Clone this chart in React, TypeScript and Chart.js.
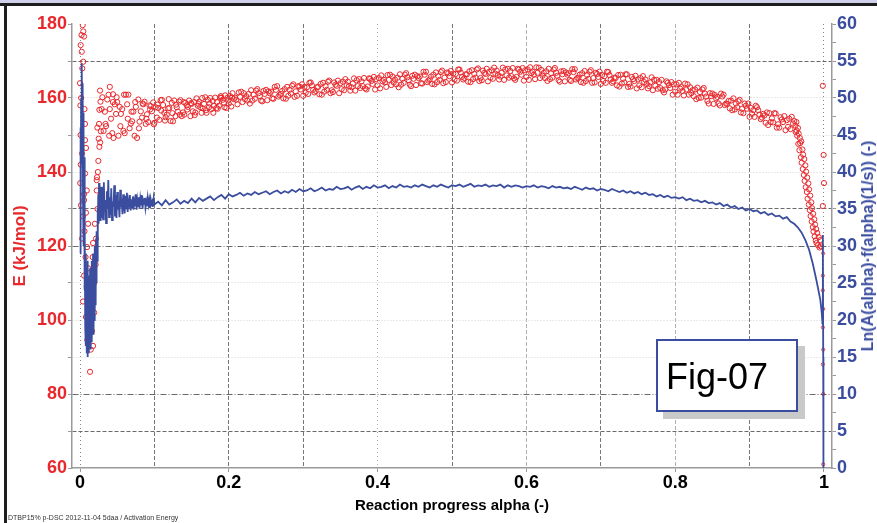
import React, { useEffect, useRef } from "react";
import { Chart, registerables } from "chart.js";

Chart.register(...registerables);

const FONT = "'Liberation Sans', Arial, Helvetica, sans-serif";
const RED = "#e8282c";
const BLUE = "#3a4d9f";

// Axis tick values
const X_TICKS = [0, 0.1, 0.2, 0.3, 0.4, 0.5, 0.6, 0.7, 0.8, 0.9, 1];
const E_TICKS = [60, 70, 80, 90, 100, 110, 120, 130, 140, 150, 160, 170, 180];
const LN_TICKS = [0, 2.5, 5, 7.5, 10, 12.5, 15, 17.5, 20, 22.5, 25, 27.5, 30, 32.5, 35, 37.5, 40, 42.5, 45, 47.5, 50, 52.5, 55, 57.5, 60];

// E (kJ/mol) — early scatter (alpha < 0.045)
const E_EARLY_ALPHA = [
  0.0036, 0.0044, 0.0054, 0.0009, 0.0023, 0.0044, 0.0, 0.0005, 0.0067, 0.0067,
  0.008, 0.001, 0.0067, 0.0003, 0.0054, 0.009, 0.0054, 0.008, 0.0094, 0.017,
  0.0108, 0.0175, 0.009, 0.0134, 0.008, 0.0134, 0.0098, 0.0175, 0.0144, 0.0134,
  0.0224, 0.0224, 0.02, 0.0175, 0.0228, 0.0246, 0.026, 0.0233, 0.026, 0.0269,
  0.04, 0.0444, 0.019, 0.021, 0.0215, 0.0235, 0.024, 0.025, 0.0255, 0.0275,
  0.028, 0.029, 0.027, 0.0007, 0.0027, 0.0013, 0.004, 0.0027, 0.006, 0.0074,
  0.0108, 0.012, 0.0148, 0.016, 0.0114, 0.019, 0.0054, 0.004, 0.002, 0.003,
  0.0015, 0.006,
];
const E_EARLY_VALUE = [
  179.7, 178, 176.6, 174.3, 172.5, 169.8, 164, 158, 153, 148.6,
  146.5, 142, 139.6, 137, 134, 135, 132.4, 129, 119.7, 117,
  114, 111.6, 109, 106, 100.8, 98, 94.6, 93, 92, 86,
  137.8, 135, 126, 120.8, 138.6, 143, 146.8, 152, 156.8, 162,
  163, 161, 110, 115, 122, 130, 140, 149, 153, 159,
  151, 157, 148, 150, 145, 131, 128, 122, 124, 117,
  126, 103, 108, 97, 95, 102, 112, 105, 177, 168,
  160, 157,
];

// E band: interleaved series sampled every E_BAND_STEP
const E_BAND_STEP = 0.005;
const E_BAND_A_START = 0.03;
const E_BAND_A = [
  160.2, 152.4, 157.0, 149.2, 158.9, 155.7, 150.5, 160.9, 153.7, 157.6,
  153.6, 158.3, 155.6, 157.8, 153.3, 157.3, 159.5, 154.8, 157.3, 153.7,
  157.5, 159.4, 155.5, 157.6, 158.4, 156.1, 159.0, 157.2, 156.0, 160.0,
  157.9, 157.1, 160.1, 160.7, 158.5, 161.3, 159.5, 160.3, 161.3, 159.3,
  162.1, 159.8, 161.3, 159.1, 162.2, 161.3, 159.8, 163.2, 161.1, 162.4,
  160.6, 163.3, 161.8, 163.1, 160.6, 162.9, 164.2, 161.5, 163.0, 160.9,
  163.2, 164.7, 161.6, 163.3, 164.0, 162.1, 164.4, 162.9, 162.0, 165.1,
  163.2, 162.3, 165.2, 165.7, 163.4, 166.1, 164.2, 164.9, 165.8, 163.7,
  166.4, 164.1, 165.6, 163.2, 166.3, 165.4, 163.9, 167.1, 165.0, 166.3,
  164.3, 167.0, 165.5, 166.7, 164.2, 166.5, 167.7, 165.0, 166.4, 164.3,
  166.5, 168.0, 164.8, 166.5, 167.1, 165.2, 167.4, 165.8, 164.9, 167.9,
  165.9, 164.9, 167.7, 168.1, 165.7, 168.3, 166.3, 166.8, 167.6, 165.4,
  167.9, 165.5, 166.8, 164.4, 167.3, 166.3, 164.6, 167.8, 165.5, 166.7,
  164.6, 167.1, 165.4, 166.5, 163.8, 165.9, 167.0, 164.1, 165.4, 163.1,
  165.2, 166.4, 163.1, 164.6, 165.0, 162.9, 165.0, 163.2, 162.1, 164.9,
  162.7, 161.5, 164.1, 164.3, 161.7, 164.1, 161.9, 162.3, 162.9, 160.5,
  162.8, 160.1, 161.2, 158.5, 161.2, 159.9, 158.0, 160.9, 158.4, 159.3,
  156.9, 159.1, 157.1, 157.9, 154.9, 156.7, 157.5, 154.3, 155.3, 152.7,
  154.5, 155.8, 152.0, 153.5, 154.0, 151.6, 153.8,
];
const E_BAND_B_START = 0.03167;
const E_BAND_B = [
  151.1, 159.6, 154.4, 158.3, 149.8, 157.0, 160.9, 151.8, 156.3, 149.2,
  156.4, 159.0, 153.5, 156.4, 157.5, 154.1, 158.1, 155.5, 153.8, 159.3,
  156.3, 155.1, 158.7, 159.3, 156.4, 159.9, 157.5, 158.4, 159.5, 157.0,
  160.1, 157.9, 159.5, 157.3, 160.5, 159.7, 158.3, 161.7, 159.7, 161.1,
  159.3, 162.0, 160.5, 161.9, 159.4, 161.7, 163.0, 160.4, 161.9, 159.8,
  162.2, 163.7, 160.6, 162.3, 163.0, 161.1, 163.4, 161.9, 161.0, 164.1,
  162.2, 161.3, 164.2, 164.7, 162.4, 165.1, 163.2, 163.9, 164.8, 162.7,
  165.4, 163.1, 164.6, 162.3, 165.4, 164.5, 163.0, 166.3, 164.2, 165.5,
  163.6, 166.3, 164.8, 166.0, 163.5, 165.8, 167.1, 164.3, 165.8, 163.7,
  165.9, 167.4, 164.3, 165.9, 166.6, 164.7, 166.9, 165.4, 164.4, 167.5,
  165.5, 164.6, 167.4, 167.9, 165.5, 168.2, 166.2, 166.8, 167.7, 165.5,
  168.1, 165.7, 167.1, 164.7, 167.7, 166.7, 165.1, 168.2, 166.0, 167.2,
  165.1, 167.7, 166.0, 167.2, 164.5, 166.7, 167.8, 165.0, 166.3, 164.1,
  166.2, 167.5, 164.2, 165.7, 166.2, 164.1, 166.2, 164.5, 163.4, 166.3,
  164.2, 163.0, 165.7, 166.0, 163.4, 165.9, 163.8, 164.2, 164.9, 162.5,
  164.9, 162.3, 163.5, 160.9, 163.7, 162.5, 160.7, 163.7, 161.3, 162.3,
  160.0, 162.3, 160.4, 161.3, 158.4, 160.3, 161.2, 158.1, 159.2, 156.7,
  158.5, 159.5, 155.9, 157.1, 157.3, 154.9, 156.7, 154.7, 153.3, 155.9,
  153.4, 152.0, 154.8, 155.1, 152.2, 154.9, 152.5,
];
const E_BAND_C_START = 0.03333;
const E_BAND_C = [
  156.3, 160.9, 150.5, 155.7, 157.6, 151.1, 158.3, 153.1, 149.8, 159.6,
  154.7, 153.0, 158.0, 158.8, 154.7, 159.4, 156.0, 157.2, 158.7, 155.1,
  159.0, 156.1, 158.0, 155.1, 158.9, 157.9, 156.0, 160.2, 157.5, 159.2,
  157.3, 160.1, 158.7, 160.1, 157.7, 160.1, 161.5, 158.9, 160.5, 158.5,
  160.9, 162.4, 159.3, 161.1, 161.8, 159.9, 162.2, 160.8, 159.9, 163.0,
  161.2, 160.3, 163.2, 163.7, 161.4, 164.1, 162.2, 162.9, 163.8, 161.7,
  164.4, 162.1, 163.6, 161.3, 164.4, 163.5, 162.0, 165.3, 163.2, 164.5,
  162.6, 165.3, 163.8, 165.1, 162.6, 164.9, 166.2, 163.5, 165.0, 162.9,
  165.2, 166.7, 163.6, 165.2, 165.9, 164.0, 166.3, 164.7, 163.8, 166.9,
  164.9, 164.0, 166.9, 167.3, 165.0, 167.7, 165.7, 166.4, 167.2, 165.1,
  167.7, 165.4, 166.8, 164.5, 167.5, 166.6, 165.0, 168.2, 166.1, 167.3,
  165.3, 167.9, 166.3, 167.5, 164.9, 167.1, 168.3, 165.4, 166.8, 164.6,
  166.7, 168.1, 164.8, 166.4, 166.9, 164.9, 167.0, 165.4, 164.3, 167.3,
  165.2, 164.1, 166.8, 167.1, 164.6, 167.1, 165.0, 165.5, 166.2, 163.9,
  166.4, 163.8, 165.1, 162.6, 165.4, 164.3, 162.6, 165.6, 163.3, 164.3,
  162.1, 164.5, 162.7, 163.7, 160.9, 162.9, 163.9, 160.9, 162.1, 159.7,
  161.6, 162.7, 159.2, 160.5, 160.8, 158.5, 160.4, 158.5, 157.2, 159.9,
  157.5, 156.1, 158.5, 158.5, 155.7, 157.9, 155.5, 155.7, 156.1, 153.5,
  155.9, 152.9, 154.2, 151.3, 154.4, 153.1, 151.2,
];
// extra fill for the wide early cloud (0.034–0.204)
const E_BAND_D_START = 0.0342;
const E_BAND_D = [
  153.0, 149.8, 158.9, 160.2, 152.4, 160.9, 154.4, 156.3, 158.9, 151.8,
  158.5, 154.4, 156.9, 152.9, 158.2, 156.6, 153.9, 159.7, 155.9, 158.2,
  155.5, 158.9, 156.9, 158.6, 155.4, 158.4, 160.0, 156.7, 158.5, 156.0,
  158.9, 160.5, 157.5, 159.3, 160.1,
];

// E drop near the end
const E_TAIL_ALPHA = [
  0.962, 0.963, 0.964, 0.965, 0.9655, 0.966, 0.967, 0.9675, 0.968, 0.969,
  0.9695, 0.97, 0.971, 0.9715, 0.972, 0.973, 0.9735, 0.974, 0.975, 0.9755,
  0.976, 0.977, 0.9775, 0.978, 0.979, 0.9795, 0.98, 0.981, 0.9815, 0.982,
  0.983, 0.9835, 0.984, 0.985, 0.9855, 0.986, 0.987, 0.9875, 0.988, 0.989,
  0.9895, 0.99, 0.991, 0.992, 0.993, 0.994, 0.995, 0.996,
  0.9985, 0.9995, 1.0, 0.9985,
];
const E_TAIL_VALUE = [
  150.8, 153.5, 149.8, 151.9, 147.6, 150.4, 145.9, 149.2, 147.8, 144.0,
  148.3, 142.5, 146.1, 140.8, 144.7, 139.2, 143.5, 137.6, 141.8, 135.9,
  140.1, 134.6, 138.5, 132.8, 136.9, 131.2, 135.3, 129.7, 133.6, 128.1,
  131.8, 126.6, 130.2, 125.1, 128.7, 123.9, 127.2, 122.6, 125.8, 121.5,
  124.6, 120.8, 123.5, 120.2, 122.4, 119.6, 121.6, 119.9,
  163.3, 144.6, 137.0, 130.8,
];
// small scattered E values along alpha = 1
const E_END_ALPHA = [0.999, 0.9985, 0.9985, 0.999, 0.9985, 0.999, 0.9985, 0.999, 0.999];
const E_END_VALUE = [118, 112, 108, 103, 98, 92, 88, 80, 61];

// Ln(A·f) — early part
const LN_EARLY_ALPHA = [
  0.0, 0.0005, 0.001, 0.0015, 0.002, 0.0025, 0.003, 0.0035, 0.004, 0.0045,
  0.005, 0.0055, 0.006, 0.0065, 0.007, 0.0075, 0.008, 0.0085, 0.009, 0.0095,
  0.01, 0.0105, 0.011, 0.0115, 0.012, 0.0125, 0.013, 0.0135, 0.014, 0.0145,
  0.015, 0.0155, 0.016, 0.0165, 0.017, 0.0175, 0.018, 0.0185, 0.019, 0.0195,
  0.02, 0.0205, 0.021, 0.0215, 0.022, 0.0225, 0.023, 0.0235, 0.024, 0.0245,
  0.025, 0.0255, 0.026, 0.0265, 0.027, 0.0275, 0.028, 0.0285, 0.029, 0.0295,
];
const LN_EARLY_VALUE = [
  29, 46, 31, 50, 41, 54.7, 44, 52, 36, 48,
  30, 42, 24, 33, 19, 29, 16.5, 27, 15.5, 25,
  15, 28, 16, 26, 15.5, 24, 17, 27, 16, 25,
  18, 28, 17, 26, 19, 29, 18, 27, 20, 30,
  21, 29, 22, 31, 25, 32, 28, 35, 31, 37,
  33, 38.5, 34, 38, 33.5, 37.5, 34, 38, 33.8, 37,
];
// noisy stretch, every 0.001 from 0.030 to 0.100
const LN_NOISY_START = 0.03;
const LN_NOISY_STEP = 0.001;
const LN_NOISY = [
  37.9, 33.6, 38.6, 34.8, 36.2, 33.1, 37.4, 35.0, 38.9, 33.9,
  36.6, 34.2, 37.8, 33.5, 36.0, 35.3, 38.2, 34.0, 36.9, 33.8,
  37.3, 34.9, 36.1, 33.9, 37.6, 35.2, 36.4, 34.3, 37.0, 35.6,
  34.4, 36.8, 35.1, 37.2, 34.6, 36.0, 35.3, 36.9, 34.8, 36.3,
  35.2, 36.7, 34.9, 36.1, 35.5, 37.0, 34.9, 36.2, 35.4, 36.6,
  35.1, 36.4, 35.6, 36.9, 35.0, 36.1, 35.7, 36.5, 35.2, 36.0,
  35.4, 36.5, 35.6, 36.2, 35.1, 36.3, 35.7, 36.0, 35.3, 36.4,
  35.6,
];
// main body, every 0.005 from 0.105 to 0.995
const LN_MAIN_START = 0.105;
const LN_MAIN_STEP = 0.005;
const LN_MAIN = [
  36.0, 35.5, 36.2, 35.6, 35.9, 36.3, 35.7, 36.1, 35.8, 36.4,
  35.9, 36.5, 36.1, 36.4, 36.7, 36.2, 36.6, 36.9, 36.4, 37.0,
  36.7, 36.9, 37.2, 36.8, 37.1, 36.9, 37.3, 37.0, 37.2, 37.4,
  37.0, 37.3, 37.5, 37.1, 37.4, 37.2, 37.6, 37.3, 37.7, 37.4,
  37.5, 37.8, 37.4, 37.6, 37.9, 37.5, 37.7, 37.6, 38.0, 37.7,
  37.8, 38.0, 37.6, 37.9, 38.1, 37.7, 38.0, 37.8, 38.2, 37.9,
  38.0, 38.2, 37.8, 38.1, 37.9, 38.3, 38.0, 38.1, 37.9, 38.2,
  38.0, 38.3, 38.1, 37.9, 38.2, 38.0, 38.3, 38.1, 37.9, 38.2,
  38.1, 38.3, 38.0, 38.2, 38.4, 38.0, 38.2, 38.1, 38.3, 38.0,
  38.2, 38.1, 38.3, 37.9, 38.2, 38.0, 38.2, 38.1, 37.9, 38.1,
  38.0, 38.2, 37.9, 38.1, 38.0, 37.8, 38.1, 37.9, 38.0, 37.8,
  37.9, 37.7, 38.0, 37.8, 37.6, 37.9, 37.7, 37.8, 37.5, 37.7,
  37.6, 37.4, 37.7, 37.5, 37.3, 37.5, 37.2, 37.4, 37.1, 37.3,
  37.0, 37.2, 36.9, 37.0, 36.7, 36.9, 36.6, 36.8, 36.5, 36.6,
  36.4, 36.6, 36.2, 36.4, 36.1, 36.2, 35.9, 36.1, 35.8, 35.9,
  35.6, 35.8, 35.4, 35.6, 35.2, 35.4, 35.0, 35.2, 34.8, 35.0,
  34.7, 34.8, 34.4, 34.6, 34.2, 34.4, 34.0, 34.1, 33.7, 33.9,
  33.3, 33.0, 32.5, 31.8, 30.8, 29.5, 27.6, 25.3, 22.8,
];
const LN_TAIL_ALPHA = [0.997, 0.998, 0.9985, 0.999, 0.9992, 0.9994];
const LN_TAIL_VALUE = [21, 19.5, 31.5, 15, 10, 0];

function pairs(xs: number[], ys: number[]) {
  return ys.map((y, i) => ({ x: xs[i], y }));
}
function sampled(start: number, step: number, ys: number[]) {
  return ys.map((y, i) => ({ x: start + i * step, y }));
}

const DARK_E = [170, 130, 120, 80, 70];

export default function App() {
  const ref = useRef<HTMLCanvasElement | null>(null);

  useEffect(() => {
    const canvas = ref.current;
    if (!canvas) return;

    const lnData = [
      ...pairs(LN_EARLY_ALPHA, LN_EARLY_VALUE),
      ...sampled(LN_NOISY_START, LN_NOISY_STEP, LN_NOISY),
      ...sampled(LN_MAIN_START, LN_MAIN_STEP, LN_MAIN),
      ...pairs(LN_TAIL_ALPHA, LN_TAIL_VALUE),
    ];
    const eData = [
      ...pairs(E_EARLY_ALPHA, E_EARLY_VALUE),
      ...sampled(E_BAND_A_START, E_BAND_STEP, E_BAND_A),
      ...sampled(E_BAND_B_START, E_BAND_STEP, E_BAND_B),
      ...sampled(E_BAND_C_START, E_BAND_STEP, E_BAND_C),
      ...sampled(E_BAND_D_START, E_BAND_STEP, E_BAND_D),
      ...pairs(E_TAIL_ALPHA, E_TAIL_VALUE),
    ];
    const eEnd = pairs(E_END_ALPHA, E_END_VALUE);

    const chart = new Chart(canvas, {
      type: "line",
      data: {
        datasets: [
          {
            label: "Ln(A(alpha)·f(alpha)(1/s))",
            data: lnData,
            yAxisID: "y1",
            borderColor: BLUE,
            borderWidth: 1.8,
            pointRadius: 0,
            tension: 0,
            fill: false,
          },
          {
            label: "E end",
            data: eEnd,
            yAxisID: "y",
            showLine: false,
            pointRadius: 1.6,
            pointBorderWidth: 0.9,
            pointBorderColor: RED,
            pointBackgroundColor: "rgba(0,0,0,0)",
          },
          {
            label: "E (kJ/mol)",
            data: eData,
            yAxisID: "y",
            showLine: false,
            pointRadius: 2.6,
            pointBorderWidth: 1,
            pointBorderColor: RED,
            pointBackgroundColor: "rgba(0,0,0,0)",
          },
        ],
      },
      options: {
        animation: false,
        responsive: true,
        maintainAspectRatio: false,
        layout: { padding: { top: 24, left: 0, right: 0, bottom: 0 } },
        plugins: { legend: { display: false }, tooltip: { enabled: false } },
        scales: {
          x: {
            type: "linear",
            min: -0.0108,
            max: 1.0108,
            afterBuildTicks: (s: any) => {
              s.ticks = X_TICKS.map((v) => ({ value: v }));
            },
            afterFit: (s: any) => {
              s.height = 55;
            },
            ticks: {
              autoSkip: false,
              maxRotation: 0,
              color: "#000",
              padding: 0,
              font: { family: FONT, size: 18, weight: "bold" },
              callback: (v: any) => {
                const k = Math.round(Number(v) * 10);
                return k % 2 === 0 ? String(k / 10) : "";
              },
            },
            grid: {
              color: (ctx: any) => {
                const k = Math.round((ctx.tick?.value ?? 0) * 10);
                if (k === 4 || k === 6 || k === 8) return "#b0b0b0";
                if (k === 0 || k === 10) return "#888";
                return "#777";
              },
              lineWidth: 1,
              tickLength: 4,
              tickColor: (ctx: any) => {
                const k = Math.round((ctx.tick?.value ?? 0) * 10);
                return k % 2 === 0 ? "#999" : "rgba(0,0,0,0)";
              },
            },
            border: {
              color: "#9a9a9a",
              width: 1.5,
              dash: (ctx: any) => {
                const k = Math.round((ctx.tick?.value ?? 0) * 10);
                return k === 0 || k === 10 || k === 4 ? [1, 3] : [4, 2];
              },
            },
            title: {
              display: true,
              text: "Reaction progress alpha (-)",
              color: "#000",
              font: { family: FONT, size: 15, weight: "bold" },
              padding: { top: 0, bottom: 8 },
            },
          },
          y: {
            type: "linear",
            position: "left",
            min: 60,
            max: 180,
            afterBuildTicks: (s: any) => {
              s.ticks = E_TICKS.map((v) => ({ value: v }));
            },
            afterFit: (s: any) => {
              s.width = 72;
            },
            ticks: {
              autoSkip: false,
              color: RED,
              padding: 1,
              font: { family: FONT, size: 18, weight: "bold" },
              callback: (v: any) => (Number(v) % 20 === 0 ? String(v) : ""),
            },
            grid: {
              color: (ctx: any) => {
                const v = ctx.tick?.value;
                if (v === 60 || v === 180) return "rgba(0,0,0,0)";
                if (DARK_E.includes(v)) return "#6a6a6a";
                return "#d4d4d4";
              },
              lineWidth: 1,
              tickLength: 4,
              tickColor: "#999",
            },
            border: {
              color: "#9a9a9a",
              width: 1.5,
              dash: (ctx: any) => {
                const v = ctx.tick?.value;
                if (v === 120 || v === 80) return [6, 2, 1, 2];
                if (DARK_E.includes(v)) return [4, 2];
                return [1, 2];
              },
            },
            title: {
              display: true,
              text: "E (kJ/mol)",
              color: RED,
              font: { family: FONT, size: 17, weight: "bold" },
              padding: { top: 10, bottom: 0 },
            },
          },
          y1: {
            type: "linear",
            position: "right",
            min: 0,
            max: 60,
            afterBuildTicks: (s: any) => {
              s.ticks = LN_TICKS.map((v) => ({ value: v }));
            },
            afterFit: (s: any) => {
              s.width = 45;
            },
            ticks: {
              autoSkip: false,
              color: BLUE,
              padding: 1,
              font: { family: FONT, size: 18, weight: "bold" },
              callback: (v: any) => (Number(v) % 5 === 0 ? String(v) : ""),
            },
            grid: {
              drawOnChartArea: false,
              tickLength: 4,
              tickColor: "#999",
            },
            border: { color: "#9a9a9a", width: 1.5 },
          },
        },
      },
    } as any);

    return () => chart.destroy();
  }, []);

  return (
    <div
      style={{
        position: "fixed",
        left: 0,
        top: 0,
        width: 877,
        height: 523,
        background: "#fff",
        overflow: "hidden",
      }}
    >
      <canvas ref={ref} style={{ position: "absolute", left: 0, top: 0, width: 877, height: 523 }} />
      {/* frame */}
      <div style={{ position: "absolute", left: 0, top: 0, width: 877, height: 3, background: "#cfd0ea" }} />
      <div style={{ position: "absolute", left: 0, top: 3, width: 877, height: 3, background: "#1e1e1e" }} />
      <div style={{ position: "absolute", left: 4, top: 3, width: 3, height: 520, background: "#1e1e1e" }} />
      {/* right axis title */}
      <div
        style={{
          position: "absolute",
          left: 868,
          top: 246,
          transform: "translate(-50%, -50%) rotate(-90deg)",
          whiteSpace: "nowrap",
          fontFamily: FONT,
          fontWeight: "bold",
          fontSize: 16,
          color: BLUE,
          lineHeight: "18px",
        }}
      >
        Ln(A(alpha)·f(alpha)(1/s)) (-)
      </div>
      {/* Fig-07 box */}
      <div
        style={{
          position: "absolute",
          left: 656,
          top: 339,
          width: 138,
          height: 69,
          border: `2px solid ${BLUE}`,
          background: "#fff",
          boxShadow: "7px 7px 0 #c9c9c9",
          fontFamily: FONT,
          fontSize: 36,
          color: "#000",
          boxSizing: "content-box",
        }}
      >
        <div style={{ position: "absolute", left: 8, top: 15, lineHeight: "41px", whiteSpace: "nowrap" }}>Fig-07</div>
      </div>
      {/* footer */}
      <div
        style={{
          position: "absolute",
          left: 8,
          top: 513,
          fontFamily: FONT,
          fontSize: 7,
          color: "#333",
          whiteSpace: "nowrap",
          lineHeight: "9px",
        }}
      >
        DTBP15% p-DSC 2012-11-04 5daa / Activation Energy
      </div>
    </div>
  );
}
